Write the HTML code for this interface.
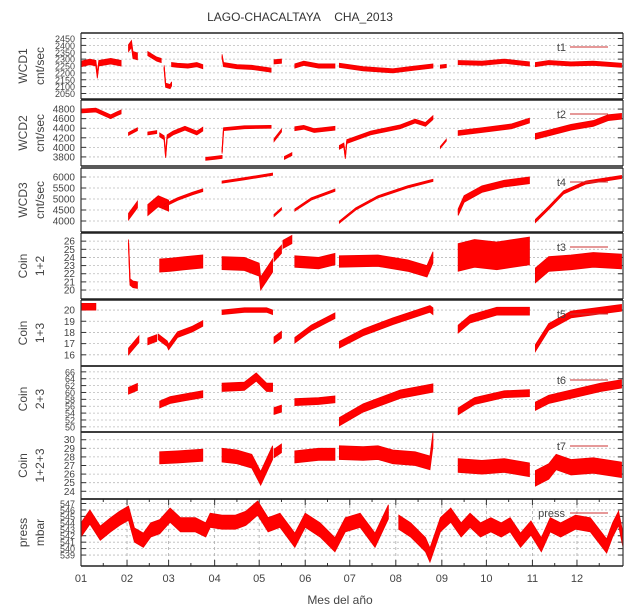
<!DOCTYPE html>
<html><head><meta charset="utf-8"><style>
body{margin:0;background:#fff;}
svg{display:block;font-family:"Liberation Sans",sans-serif;}
</style></head><body>
<svg id="chart" width="631" height="612" viewBox="0 0 631 612">
<text x="300" y="21" font-size="12" fill="#333" text-anchor="middle">LAGO-CHACALTAYA&#160;&#160;&#160;&#160;CHA_2013</text>
<text x="340" y="604" font-size="12" fill="#444" text-anchor="middle">Mes del año</text>
<g id="panels"></g>
</svg>
<script>
const monthLabels = ["01","02","03","04","05","06","07","08","09","10","11","12"];
const monthStartDays = [0,31,59,90,120,151,181,212,243,273,304,334];

const wcd1Segments = [
 {d:[0,6,10,11,12,20,27],v:[2265,2280,2270,2180,2270,2285,2270],s:20},
 {d:[32,34,35,38],v:[2380,2410,2330,2320],s:25},
 {d:[45,48,51,54],v:[2340,2320,2300,2290],s:15},
 {d:[56,57,60,61],v:[2240,2110,2100,2120],s:15},
 {d:[61,65,72,78,82],v:[2260,2255,2250,2260,2245],s:15},
 {d:[95,96,105,115,128],v:[2320,2260,2245,2240,2220],s:15},
 {d:[130,135],v:[2280,2285],s:15},
 {d:[144,150,160,171],v:[2250,2270,2250,2250],s:15},
 {d:[174,190,210,225,237],v:[2255,2230,2215,2235,2250],s:15},
 {d:[242,246],v:[2245,2250],s:12},
 {d:[254,270,285,302],v:[2275,2270,2285,2265],s:15},
 {d:[306,315,330,345,364],v:[2260,2275,2265,2270,2255],s:15}];
const wcd2Segments = [
 {d:[0,10,20,24,27],v:[4760,4780,4640,4700,4740],s:40},
 {d:[32,38],v:[4280,4380],s:30},
 {d:[45,51],v:[4290,4320],s:30},
 {d:[53,56,57,58,62,70,78,82],v:[4260,4200,3820,4220,4300,4400,4300,4380],s:40},
 {d:[84,90,95],v:[3760,3780,3800],s:30},
 {d:[95,96,110,128],v:[3900,4380,4420,4430],s:30},
 {d:[130,135],v:[4150,4350],s:30},
 {d:[137,142],v:[3780,3860],s:30},
 {d:[144,150,157,171],v:[4390,4420,4350,4400],s:40},
 {d:[174,177,178,179,195,215,225,232,237],v:[4000,4050,3800,4120,4300,4430,4550,4480,4620],s:40},
 {d:[242,246],v:[4000,4150],s:20},
 {d:[254,270,290,302],v:[4300,4360,4440,4560],s:50},
 {d:[306,315,330,345,355,364],v:[4230,4300,4420,4500,4620,4650],s:60}];
const wcd3Segments = [
 {d:[32,38],v:[4200,4750],s:150},
 {d:[45,52,59],v:[4500,4900,4700],s:250},
 {d:[56,65,75,82],v:[4700,5000,5250,5400],s:60},
 {d:[95,110,129],v:[5770,5920,6130],s:50},
 {d:[130,135],v:[4250,4550],s:50},
 {d:[144,155,171],v:[4500,5000,5400],s:50},
 {d:[174,185,200,220,237],v:[3950,4550,5100,5550,5850],s:50},
 {d:[254,258,270,285,302],v:[4400,5000,5450,5700,5850],s:150},
 {d:[306,315,325,340,364],v:[4000,4600,5300,5750,6000],s:70}];
const coin12Segments = [
 {d:[32,33,35,38],v:[25.8,21.0,20.7,20.6],s:0.4},
 {d:[53,60,70,82],v:[23.0,23.1,23.3,23.5],s:0.8},
 {d:[95,110,120,121,129],v:[23.3,23.2,22.5,20.8,23.0],s:0.8},
 {d:[130,135],v:[24.0,25.0],s:0.5},
 {d:[136,142],v:[25.6,26.2],s:0.5},
 {d:[144,160,171],v:[23.5,23.3,23.8],s:0.7},
 {d:[174,200,220,233,237],v:[23.5,23.6,23.0,22.3,24.0],s:0.7},
 {d:[254,265,280,302],v:[24.0,24.5,24.2,24.8],s:1.7},
 {d:[306,315,330,345,364],v:[21.8,23.2,23.4,23.7,23.5],s:0.9}];
const coin13Segments = [
 {d:[0,10],v:[20.3,20.3],s:0.3},
 {d:[32,39],v:[16.3,17.4],s:0.3},
 {d:[45,51],v:[17.2,17.5],s:0.3},
 {d:[52,58,59,65,75,82],v:[17.6,17.0,16.7,17.8,18.3,18.8],s:0.25},
 {d:[95,110,125,129],v:[19.8,20.0,20.0,19.8],s:0.2},
 {d:[130,135],v:[17.3,17.8],s:0.3},
 {d:[144,155,171],v:[17.3,18.4,19.5],s:0.25},
 {d:[174,190,210,235,237],v:[16.9,18.0,19.0,20.1,19.9],s:0.3},
 {d:[254,262,280,302],v:[18.3,19.2,19.9,19.9],s:0.35},
 {d:[306,315,330,364],v:[16.6,18.5,19.6,20.2],s:0.3}];
const coin23Segments = [
 {d:[32,38],v:[60.5,61.6],s:1},
 {d:[53,60,70,82],v:[56.5,57.8,58.6,59.5],s:1},
 {d:[95,110,118,125,129],v:[61.5,61.8,64.5,61.5,61.5],s:1.2},
 {d:[130,135],v:[54.6,55.3],s:1},
 {d:[144,160,171],v:[57.2,57.5,58.0],s:1},
 {d:[174,190,215,237],v:[51.5,55.5,59.5,61.3],s:1.2},
 {d:[254,265,285,302],v:[54.5,57.5,59.5,59.8],s:1},
 {d:[306,315,330,350,364],v:[56,58,59.5,61.5,62.5],s:1.2}];
const coin123Segments = [
 {d:[53,65,82],v:[27.9,28.0,28.2],s:0.7},
 {d:[95,105,115,121,129],v:[28.2,28.0,27.5,25.5,28.5],s:0.8},
 {d:[130,135],v:[28.4,29.0],s:0.5},
 {d:[144,160,171],v:[28.0,28.3,28.3],s:0.7},
 {d:[174,190,200,210,225,235,237],v:[28.5,28.4,28.5,28.0,27.8,27.3,30.0],s:0.8},
 {d:[254,270,285,302],v:[27.0,26.8,27.0,26.5],s:0.8},
 {d:[306,315,320,330,345,364],v:[25.5,26.3,27.4,26.8,27.0,26.5],s:0.9}];
const pressSegments = [
 {d:[0,6,13,20,26,32,36,42,47,53,60,67,77,84,87,95,104,111,119,126,134,144,151,161,171,178,188,198,207],
  v:[542.9,544.9,542.4,543.7,544.7,545.5,542.1,541.3,542.9,543.4,545.2,543.7,543.7,542.9,544.4,544.1,544.1,544.7,546.3,543.7,544.4,541.3,544.4,542.9,540.6,543.7,544.4,541.3,545.7],s:1.1},
 {d:[214,222,232,235,242,249,256,262,269,276,283,289,296,303,310,316,323,333,343,354,358,362,365],
  v:[544.1,542.9,540.6,539.0,543.7,545.2,542.9,544.4,542.9,543.7,542.9,543.7,541.3,543.2,540.6,543.7,542.9,544.1,543.7,540.4,542.9,544.7,541.3],s:1.1}];

const panels = [
 {name:"wcd1",l1:"WCD1",l2:"cnt/sec",top:33,bot:99,min:2010,max:2490,ticks:[2050,2100,2150,2200,2250,2300,2350,2400,2450],fs:9,seg:wcd1Segments,leg:"t1"},
 {name:"wcd2",l1:"WCD2",l2:"cnt/sec",top:100,bot:166,min:3610,max:4990,ticks:[3800,4000,4200,4400,4600,4800],fs:10,seg:wcd2Segments,leg:"t2"},
 {name:"wcd3",l1:"WCD3",l2:"cnt/sec",top:168,bot:232,min:3500,max:6410,ticks:[4000,4500,5000,5500,6000],fs:10,seg:wcd3Segments,leg:"t4"},
 {name:"coin12",l1:"Coin",l2:"1+2",top:233,bot:299,min:18.9,max:27,ticks:[20,21,22,23,24,25,26],fs:10,seg:coin12Segments,leg:"t3"},
 {name:"coin13",l1:"Coin",l2:"1+3",top:300,bot:366,min:15,max:20.9,ticks:[16,17,18,19,20],fs:10,seg:coin13Segments,leg:"t5"},
 {name:"coin23",l1:"Coin",l2:"2+3",top:366,bot:432,min:48.5,max:67.7,ticks:[50,52,54,56,58,60,62,64,66],fs:9,seg:coin23Segments,leg:"t6"},
 {name:"coin123",l1:"Coin",l2:"1+2+3",top:432,bot:499,min:23.1,max:30.9,ticks:[24,25,26,27,28,29,30],fs:10,seg:coin123Segments,leg:"t7"},
 {name:"press",l1:"press",l2:"mbar",top:499,bot:566,min:537.3,max:547.7,ticks:[539,540,541,542,543,544,545,546,547],fs:9,seg:pressSegments,leg:"press"}
];

const NS="http://www.w3.org/2000/svg";
const X0=81, X1=623;
function xs(d){return X0+(d/365)*(X1-X0);}
const root=document.getElementById("panels");
function mk(tag,attrs,parent){const e=document.createElementNS(NS,tag);for(const k in attrs)e.setAttribute(k,attrs[k]);(parent||root).appendChild(e);return e;}

panels.forEach(function(p,pi){
  const g=mk("g",{});
  
  
  const ys=function(v){return p.bot-(v-p.min)/(p.max-p.min)*(p.bot-p.top);};
  p.ticks.forEach(function(t){
    const y=ys(t);
    const gl=mk("line",{x1:X0,x2:X1,y1:y,y2:y,stroke:"#bbb","stroke-width":0.8,"stroke-dasharray":"2,2"},g);
    
    
    mk("line",{x1:X0,x2:X0+5,y1:y,y2:y,stroke:"#333","stroke-width":1},g);
    mk("line",{x1:X1-5,x2:X1,y1:y,y2:y,stroke:"#333","stroke-width":1},g);
    const tl=mk("text",{x:75,y:y+3.5,"font-size":p.fs,fill:"#444","text-anchor":"end"},g);
    tl.textContent=t;
    
    
  });
  if(p.name==="press"){
    monthStartDays.forEach(function(d,i){
      const x=xs(d);
      if(i>0){const v=mk("line",{x1:x,x2:x,y1:p.top,y2:p.bot,stroke:"#aaa","stroke-width":0.8,"stroke-dasharray":"3,3"},g);
      
      }
      mk("line",{x1:x,x2:x,y1:p.bot,y2:p.bot-6,stroke:"#333"},g);
      mk("line",{x1:x,x2:x,y1:p.top,y2:p.top+6,stroke:"#333"},g);
      const mid=xs(d+15);
      if(mid<X1){mk("line",{x1:mid,x2:mid,y1:p.bot,y2:p.bot-3,stroke:"#333"},g);
      mk("line",{x1:mid,x2:mid,y1:p.top,y2:p.top+3,stroke:"#333"},g);}
      const ml=mk("text",{x:x,y:582,"font-size":11,fill:"#444","text-anchor":"middle"},g);
      ml.textContent=monthLabels[i];
      
      
    });
  }
  p.seg.forEach(function(s){
    let up=[],dn=[],ln=[];
    for(let i=0;i<s.d.length;i++){
      const x=xs(s.d[i]);
      up.push(x+","+ys(s.v[i]+s.s));
      dn.unshift(x+","+ys(s.v[i]-s.s));
      ln.push(x+","+ys(s.v[i]));
    }
    const band=mk("polygon",{points:up.concat(dn).join(" "),fill:"#f00",stroke:"#e00","stroke-width":0.8},g);
    
    
    const line=mk("polyline",{points:ln.join(" "),fill:"none",stroke:"#f00","stroke-width":1.2},g);
    
    
  });
  mk("line",{x1:X0,x2:X0,y1:p.top,y2:p.bot,stroke:"#333","stroke-width":1.2},g);
  mk("line",{x1:X1,x2:X1,y1:p.top,y2:p.bot,stroke:"#333","stroke-width":1.2},g);
  mk("line",{x1:X0,x2:X1,y1:p.top,y2:p.top,stroke:"#222","stroke-width":1.5},g);
  mk("line",{x1:X0,x2:X1,y1:p.bot,y2:p.bot,stroke:"#222","stroke-width":1.5},g);
  const ly=p.top+14;
  const lt=mk("text",{x:p.name==="press"?565:566,y:ly+4,"font-size":11,fill:"#444","text-anchor":"end"},g);
  lt.textContent=p.leg;
  
  
  const ll=mk("line",{x1:570,x2:608,y1:ly,y2:ly,stroke:"#c33","stroke-width":1},g);
  
  
  const cy=(p.top+p.bot)/2;
  const a=mk("text",{x:0,y:0,"font-size":12,fill:"#444","text-anchor":"middle",transform:"translate(27,"+cy+") rotate(-90)"},g);
  a.textContent=p.l1;
  
  
  const b=mk("text",{x:0,y:0,"font-size":12,fill:"#444","text-anchor":"middle",transform:"translate(44,"+cy+") rotate(-90)"},g);
  b.textContent=p.l2;
  
  
});
</script>
</body></html>
